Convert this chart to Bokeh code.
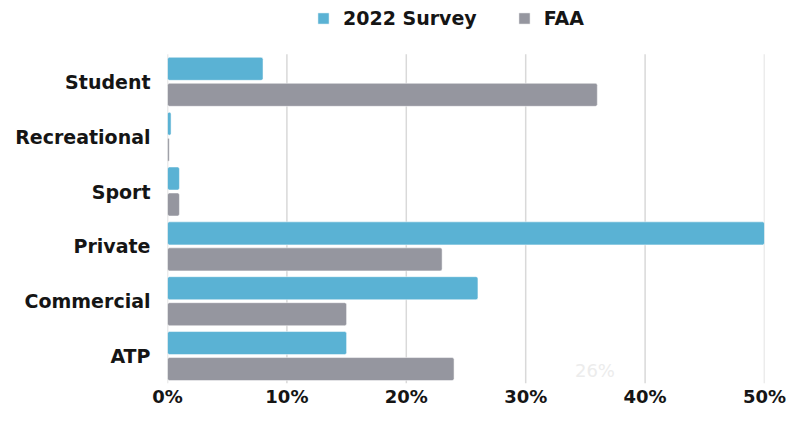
from bokeh.plotting import figure
from bokeh.models import (Range1d, FixedTicker, PrintfTickFormatter,
                          Legend, LegendItem, Label, ColumnDataSource)
from bokeh.embed import file_html
from bokeh.resources import INLINE

# ---- data ----
categories = ["Student", "Recreational", "Sport", "Private", "Commercial", "ATP"]
survey_2022 = [8.0, 0.3, 1.0, 50.0, 26.0, 15.0]
faa = [36.0, 0.15, 1.0, 23.0, 15.0, 24.0]
series_names = ["2022 Survey", "FAA"]
x_ticks = [0, 10, 20, 30, 40, 50]
stray_label_text = "26%"
stray_label_value = 35.8

# ---- style ----
BLUE = "#5ab2d4"
GRAY = "#95969f"
TEXT = "#151515"
FONT = "DejaVu Sans"

W, H = 786, 409
BOTTOM, LEFT, RIGHT = 18, 167, 22
FH = H - BOTTOM              # frame reaches the top of the canvas
BAND_TOP = 55                # pixels of free space above the first category
n = len(categories)
px_per_unit = (FH - BAND_TOP) / n

y_pos = [n - i - 0.5 for i in range(n)]
bar_h = 0.42
off = 0.237

source = ColumnDataSource(dict(
    cat=categories,
    y_a=[y + off for y in y_pos],
    y_b=[y - off for y in y_pos],
    s2022=survey_2022, faa=faa))

p = figure(width=W, height=H,
           y_range=Range1d(0, n + BAND_TOP / px_per_unit),
           x_range=Range1d(0, 50),
           output_backend="svg", toolbar_location=None,
           min_border_left=LEFT, min_border_right=RIGHT,
           min_border_top=0, min_border_bottom=BOTTOM)

p.outline_line_color = None
p.background_fill_color = "white"
p.border_fill_color = "white"
p.xgrid.grid_line_color = None
p.ygrid.grid_line_color = None

# vertical gridlines over the category band only
p.segment(x0=x_ticks, x1=x_ticks, y0=[0] * len(x_ticks), y1=[n] * len(x_ticks),
          line_color="#d9d9d9", line_width=1.5)

r1 = p.hbar(y="y_a", right="s2022", left=0, height=bar_h,
            source=source, fill_color=BLUE, line_color="white", line_alpha=0.5,
            line_width=1, border_radius=2)
r2 = p.hbar(y="y_b", right="faa", left=0, height=bar_h,
            source=source, fill_color=GRAY, line_color="white", line_alpha=0.5,
            line_width=1, border_radius=2)

# axes
p.xaxis.ticker = FixedTicker(ticks=x_ticks)
p.xaxis.formatter = PrintfTickFormatter(format="%d%%")
p.yaxis.ticker = FixedTicker(ticks=y_pos)
p.yaxis.major_label_overrides = {y: c for y, c in zip(y_pos, categories)}
for ax in (p.xaxis, p.yaxis):
    ax.axis_line_color = None
    ax.major_tick_line_color = None
    ax.minor_tick_line_color = None
    ax.major_tick_out = 0
    ax.major_tick_in = 0
    ax.major_label_text_font = FONT
    ax.major_label_text_font_style = "bold"
    ax.major_label_text_color = TEXT
p.yaxis.major_label_text_font_size = "19px"
p.yaxis.major_label_standoff = 17
p.xaxis.major_label_text_font_size = "18px"
p.xaxis.major_label_standoff = 2

# legend inside the (tall) frame, above the bars
legend = Legend(items=[LegendItem(label=series_names[0], renderers=[r1]),
                       LegendItem(label=series_names[1], renderers=[r2])],
                orientation="horizontal",
                location=(149, FH - 37),
                glyph_width=14, glyph_height=14,
                label_standoff=13, spacing=40,
                padding=0, margin=0,
                border_line_color=None, background_fill_alpha=0,
                label_text_font=FONT, label_text_font_style="bold",
                label_text_font_size="19px", label_text_color=TEXT)
p.add_layout(legend)

# faint stray label
p.add_layout(Label(x=stray_label_value, y=0.05, text=stray_label_text,
                   text_align="center", text_baseline="bottom",
                   text_font=FONT, text_font_size="18px", text_color="#ececec"))

open("out.html", "w").write(file_html(p, INLINE))
